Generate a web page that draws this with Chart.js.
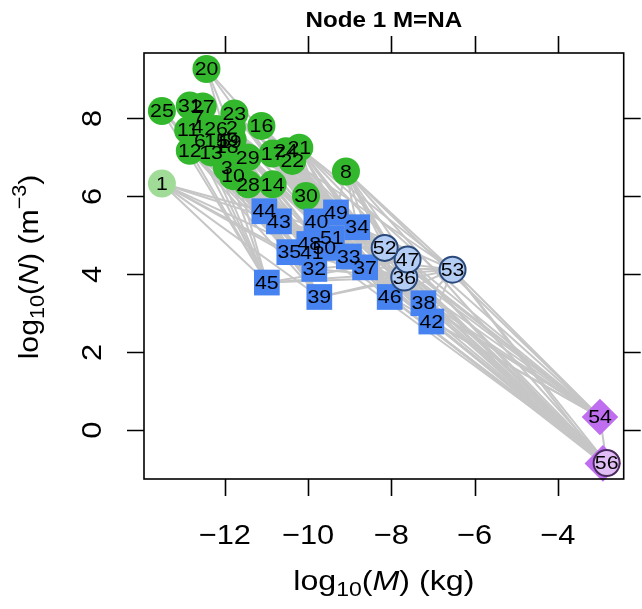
<!DOCTYPE html>
<html>
<head>
<meta charset="utf-8">
<script src="https://cdn.jsdelivr.net/npm/chart.js@4.4.1/dist/chart.umd.min.js"></script>
<style>
  html, body { margin: 0; padding: 0; background: #fff; }
  #wrap { width: 642px; height: 609px; }
</style>
</head>
<body>
<div id="wrap"><canvas id="nvm" width="642" height="609"></canvas></div>
<script>
// ---- nodes: log10(M) in kg, log10(N) per m^3 ----
const nodeIds = [1, 2, 3, 4, 5, 6, 7, 8, 9, 10, 11, 12, 13, 14, 15, 16, 17, 18, 19, 20,
                 21, 22, 23, 24, 25, 26, 27, 28, 29, 30, 31, 32, 33, 34, 35, 36, 37, 38, 39, 40,
                 41, 42, 43, 44, 45, 46, 47, 48, 49, 50, 51, 52, 53, 54, 55, 56];
const logM = [-13.51, -11.83, -11.95, -12.66, -12.00, -12.60, -12.63, -9.09, -11.81, -11.80,
              -12.88, -12.84, -12.33, -10.85, -12.21, -11.12, -10.85, -11.95, -11.88, -12.44,
              -10.21, -10.38, -11.77, -10.53, -13.51, -12.21, -12.53, -11.44, -11.45, -10.05,
              -12.84, -9.85, -9.02, -8.82, -10.45, -7.69, -8.63, -7.23, -9.73, -9.80,
              -9.91, -7.04, -10.70, -11.05, -10.99, -8.04, -7.61, -9.97, -9.33, -9.61,
              -9.43, -8.16, -6.53, -2.99, -2.92, -2.83];
const logN = [6.33, 7.76, 6.74, 7.80, 7.44, 7.43, 8.05, 6.64, 7.46, 6.52,
              7.70, 7.17, 7.13, 6.31, 7.44, 7.81, 7.10, 7.28, 7.39, 9.27,
              7.25, 6.91, 8.13, 7.16, 8.19, 7.73, 8.31, 6.31, 7.00, 6.01,
              8.33, 4.14, 4.46, 5.21, 4.57, 3.92, 4.18, 3.26, 3.42, 5.36,
              4.56, 2.79, 5.36, 5.62, 3.79, 3.42, 4.38, 4.78, 5.59, 4.68,
              4.93, 4.68, 4.12, 0.34, -0.85, -0.84];

// groups (symbol / colour)
const paleGreenNodes = [1];
const greenNodes = [2, 3, 4, 5, 6, 7, 8, 9, 10, 11, 12, 13, 14, 15, 16, 17, 18, 19, 20,
                    21, 22, 23, 24, 25, 26, 27, 28, 29, 30, 31];
const blueSquareNodes = [32, 33, 34, 35, 37, 38, 39, 40, 41, 42, 43, 44, 45, 46, 48, 49, 50, 51];
const paleBlueNodes = [36, 47, 52, 53];
const diamondNodes = [54, 55];
const purpleCircleNodes = [56];
const unlabelled = [55];

// trophic links: [consumer, [resources]]
const links = [
  [32, [1, 3, 10, 12, 13, 28, 29, 14]],
  [33, [2, 9, 19, 23, 16, 29, 17, 22]],
  [34, [16, 17, 21, 22, 24, 8, 30, 23]],
  [35, [1, 11, 12, 13, 6, 25, 3, 10]],
  [37, [14, 17, 21, 24, 22, 29, 30]],
  [38, [8, 21, 22, 30, 14, 17]],
  [39, [1, 3, 10, 12, 13, 28, 29, 18]],
  [40, [20, 23, 2, 16, 26, 9, 29, 17]],
  [41, [1, 3, 10, 13, 15, 18, 28]],
  [42, [8, 21, 22, 24, 30, 14]],
  [43, [1, 25, 11, 4, 7, 26, 12]],
  [44, [1, 20, 31, 27, 7, 4, 11]],
  [45, [1, 11, 12, 6, 13, 3, 20, 25]],
  [46, [8, 17, 21, 22, 30, 14, 29]],
  [48, [15, 5, 9, 19, 18, 26, 2]],
  [49, [20, 23, 16, 27, 31, 2, 8]],
  [50, [3, 10, 28, 29, 14, 17, 5]],
  [51, [23, 16, 17, 24, 21, 2, 9]],
  [36, [45, 39, 32, 35, 41, 46, 38, 8, 30]],
  [47, [45, 35, 32, 33, 37, 40, 49, 34, 8, 21]],
  [52, [44, 43, 40, 49, 48, 50, 51, 30, 8, 16]],
  [53, [45, 39, 46, 38, 42, 37, 33, 34, 8, 21, 22]],
  [54, [33, 34, 37, 38, 42, 46, 49, 51, 36, 47, 52, 53, 8, 21, 30]],
  [55, [36, 47, 53, 38, 42, 46]],
  [56, [54, 33, 34, 37, 38, 40, 42, 46, 48, 50, 36, 47, 52, 53, 8, 30, 22]]
];

const xTicks = [-12, -10, -8, -6, -4];
const yTicks = [0, 2, 4, 6, 8];
const plotTitle = 'Node 1 M=NA';

const FONT = '"Liberation Sans", Arial, Helvetica, sans-serif';

function pt(id) {
  return { x: logM[id - 1], y: logN[id - 1], id: id };
}

// one small line dataset per link
const linkSets = [];
links.forEach(([con, res]) => {
  res.forEach(r => {
    linkSets.push({
      type: 'line',
      data: [pt(r), pt(con)],
      borderColor: '#c6c6c6',
      borderWidth: 2,
      pointRadius: 0,
      fill: false,
      order: 10
    });
  });
});

function group(ids, style, radius, fill, border, bw, order) {
  return {
    type: 'scatter',
    data: ids.map(pt),
    pointStyle: style,
    pointRadius: radius,
    pointHoverRadius: radius,
    backgroundColor: fill,
    borderColor: border,
    borderWidth: bw,
    order: order,
    clip: false
  };
}

const pointSets = [
  group(paleGreenNodes, 'circle', 14, '#a0dc98', '#a0dc98', 0, 6),
  group(greenNodes, 'circle', 14, '#33b82d', '#33b82d', 0, 5),
  group(blueSquareNodes, 'rect', 18.2, '#4683f0', '#4683f0', 0, 4),
  group(paleBlueNodes, 'circle', 13, '#b4cdf5', '#2b4a7c', 2, 3),
  group(diamondNodes, 'rectRot', 18.3, '#bf6ef0', '#bf6ef0', 0, 2),
  group(purpleCircleNodes, 'circle', 13, '#e0bef5', '#4a2a5e', 2, 1)
];

// draw a centred run of text pieces (sub/superscripts, italics), widened a bit
function richText(ctx, parts, x, y, angle, stretch) {
  ctx.save();
  ctx.translate(x, y);
  ctx.rotate(angle || 0);
  ctx.scale(stretch || 1, 1);
  ctx.textAlign = 'left';
  ctx.textBaseline = 'alphabetic';
  let total = 0;
  parts.forEach(p => { ctx.font = p.font; total += ctx.measureText(p.t).width; });
  let cx = -total / 2;
  parts.forEach(p => {
    ctx.font = p.font;
    ctx.fillText(p.t, cx, p.dy || 0);
    cx += ctx.measureText(p.t).width;
  });
  ctx.restore();
}

function fmt(v) {
  return v < 0 ? '\u2212' + Math.abs(v) : String(v);
}

// node numbers on top of the symbols
const nodeLabels = {
  id: 'nodeLabels',
  afterDatasetsDraw(chart) {
    const ctx = chart.ctx;
    ctx.save();
    ctx.fillStyle = '#000';
    ctx.textBaseline = 'middle';
    chart.data.datasets.forEach((ds, i) => {
      if (ds.type !== 'scatter') return;
      const meta = chart.getDatasetMeta(i);
      meta.data.forEach((el, j) => {
        const id = ds.data[j].id;
        if (unlabelled.includes(id)) return;
        ctx.save();
        ctx.translate(el.x, el.y + 1);
        ctx.scale(1.12, 1);
        ctx.font = '19px ' + FONT;
        ctx.textAlign = 'center';
        ctx.fillText(String(id), 0, 0);
        ctx.restore();
      });
    });
    ctx.restore();
  }
};

// R style box, ticks on all four sides, labels bottom/left
const boxAxes = {
  id: 'boxAxes',
  afterDraw(chart) {
    const { ctx, chartArea: a, scales: { x, y } } = chart;
    const tl = 17;
    ctx.save();
    ctx.strokeStyle = '#000';
    ctx.lineWidth = 1.6;
    ctx.strokeRect(a.left, a.top, a.right - a.left, a.bottom - a.top);
    ctx.beginPath();
    xTicks.forEach(v => {
      const px = Math.round(x.getPixelForValue(v)) + 0.5;
      ctx.moveTo(px, a.bottom); ctx.lineTo(px, a.bottom + tl);
      ctx.moveTo(px, a.top); ctx.lineTo(px, a.top - tl);
    });
    yTicks.forEach(v => {
      const py = Math.round(y.getPixelForValue(v)) + 0.5;
      ctx.moveTo(a.left, py); ctx.lineTo(a.left - tl, py);
      ctx.moveTo(a.right, py); ctx.lineTo(a.right + tl, py);
    });
    ctx.stroke();

    ctx.fillStyle = '#000';
    const f = '28px ' + FONT;
    xTicks.forEach(v => {
      richText(ctx, [{ t: fmt(v), font: f }], x.getPixelForValue(v), 544, 0, 1.1);
    });
    yTicks.forEach(v => {
      richText(ctx, [{ t: fmt(v), font: f }], 101, y.getPixelForValue(v), -Math.PI / 2, 1.1);
    });

    const sub = '20px ' + FONT;
    const it = 'italic 28px ' + FONT;
    richText(ctx, [
      { t: 'log', font: f }, { t: '10', font: sub, dy: 6 }, { t: '(', font: f },
      { t: 'M', font: it }, { t: ') (kg)', font: f }
    ], (a.left + a.right) / 2, 590, 0, 1.15);
    richText(ctx, [
      { t: 'log', font: f }, { t: '10', font: sub, dy: 6 }, { t: '(', font: f },
      { t: 'N', font: it }, { t: ') (m', font: f }, { t: '\u22123', font: sub, dy: -12 },
      { t: ')', font: f }
    ], 38, 267, -Math.PI / 2, 1.08);

    richText(ctx, [{ t: plotTitle, font: 'bold 22px ' + FONT }], (a.left + a.right) / 2, 27, 0, 1.1);
    ctx.restore();
  }
};

new Chart(document.getElementById('nvm').getContext('2d'), {
  type: 'scatter',
  data: { datasets: linkSets.concat(pointSets) },
  options: {
    responsive: false,
    animation: false,
    layout: { padding: { left: 144, right: 17, top: 53, bottom: 130 } },
    scales: {
      x: { type: 'linear', min: -13.94, max: -2.42, display: false },
      y: { type: 'linear', min: -1.25, max: 9.68, display: false }
    },
    plugins: {
      legend: { display: false },
      tooltip: { enabled: false }
    }
  },
  plugins: [nodeLabels, boxAxes]
});
</script>
</body>
</html>
